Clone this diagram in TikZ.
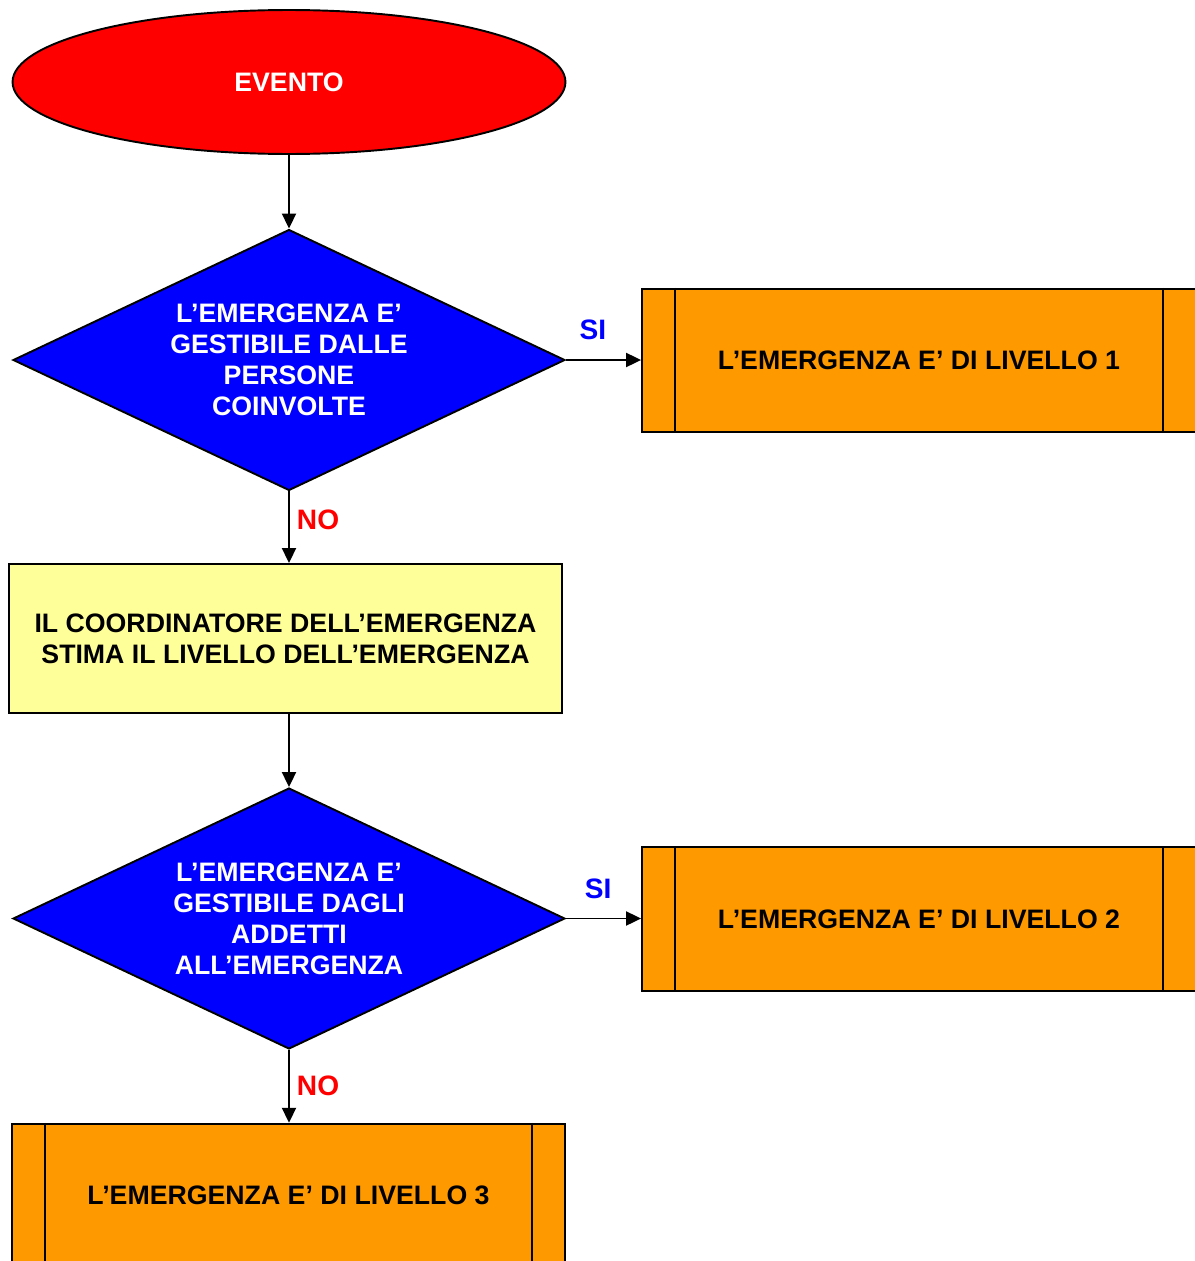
\documentclass[tikz,border=0pt]{standalone}
\usepackage{fontspec}
\setmainfont{Liberation Sans}
\definecolor{evred}{RGB}{255,0,0}
\definecolor{evblue}{RGB}{0,0,255}
\definecolor{evorange}{RGB}{255,153,0}
\definecolor{evyellow}{RGB}{255,255,153}
\usetikzlibrary{arrows.meta,shapes.geometric}

\begin{document}
\begin{tikzpicture}[x=0.02cm,y=-0.02cm,line width=1.1pt,
  font=\bfseries\fontsize{15.2}{17.6}\selectfont,
  >={Triangle[length=0.3cm,width=0.28cm]},
  evstart/.style={draw,ellipse,fill=evred,text=white,minimum width=11.06cm,minimum height=2.88cm,inner sep=0},
  evdecision/.style={draw,diamond,aspect=2.1,fill=evblue,text=white,align=center,minimum width=11.04cm,minimum height=5.22cm,inner sep=0},
  evprocess/.style={draw,rectangle,fill=evyellow,align=center,minimum width=11.06cm,minimum height=2.98cm},
  evlevel/.style={draw,rectangle,fill=evorange,minimum width=11.08cm,minimum height=2.87cm},
  silabel/.style={text=evblue,font=\bfseries\fontsize{16}{19}\selectfont,inner sep=0,anchor=south,yshift=0.38cm},
  nolabel/.style={text=evred,font=\bfseries\fontsize{16}{19}\selectfont,inner sep=0,anchor=west,xshift=0.14cm}]
  \useasboundingbox (0,0) rectangle (1194,1261);

  \node[evstart] (evento) at (289,82) {EVENTO};
  \node[evdecision] (q1) at (289,360) {L’EMERGENZA E’\\GESTIBILE DALLE\\PERSONE\\COINVOLTE};
  \node[evlevel] (lv1) at (919,360.5) {L’EMERGENZA E’ DI LIVELLO 1};
  \node[evprocess] (stima) at (285.5,638.5) {IL COORDINATORE DELL’EMERGENZA\\STIMA IL LIVELLO DELL’EMERGENZA};
  \node[evdecision] (q2) at (289,918.5) {L’EMERGENZA E’\\GESTIBILE DAGLI\\ADDETTI\\ALL’EMERGENZA};
  \node[evlevel] (lv2) at (919,919) {L’EMERGENZA E’ DI LIVELLO 2};
  \node[evlevel] (lv3) at (288.5,1195.5) {L’EMERGENZA E’ DI LIVELLO 3};

  % double sides of the level boxes
  \draw ([xshift=0.68cm]lv1.north west) -- ([xshift=0.68cm]lv1.south west);
  \draw ([xshift=-0.68cm]lv1.north east) -- ([xshift=-0.68cm]lv1.south east);
  \draw ([xshift=0.68cm]lv2.north west) -- ([xshift=0.68cm]lv2.south west);
  \draw ([xshift=-0.68cm]lv2.north east) -- ([xshift=-0.68cm]lv2.south east);
  \draw ([xshift=0.68cm]lv3.north west) -- ([xshift=0.68cm]lv3.south west);
  \draw ([xshift=-0.68cm]lv3.north east) -- ([xshift=-0.68cm]lv3.south east);

  \draw[->] (evento.south) -- (evento.south |- q1.north);
  \draw[->] (q1.east) -- (q1.east -| lv1.west) node[silabel,pos=0.36]{SI};
  \draw[->] (q1.south) -- (q1.south |- stima.north) node[nolabel,pos=0.4]{NO};
  \draw[->] (q2.north |- stima.south) -- (q2.north);
  \draw[->] (q2.east) -- (q2.east -| lv2.west) node[silabel,pos=0.43]{SI};
  \draw[->] (q2.south) -- (q2.south |- lv3.north) node[nolabel,pos=0.49]{NO};
\end{tikzpicture}
\end{document}
